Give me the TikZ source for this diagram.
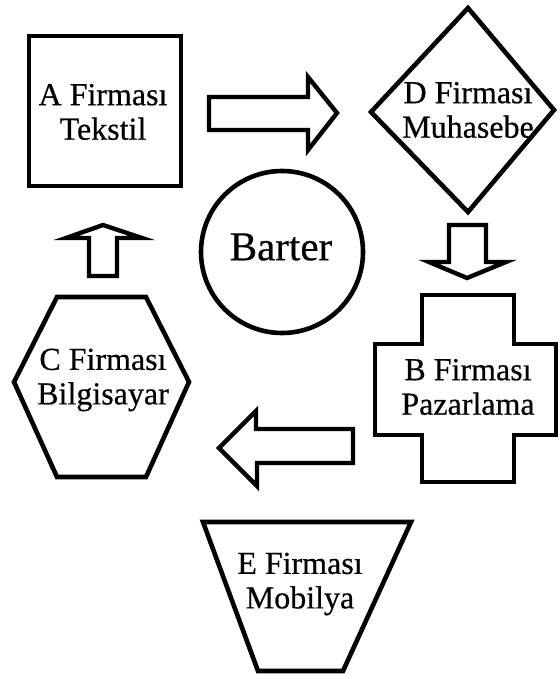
\documentclass[tikz,border=0pt]{standalone}
\usepackage{fontspec}
\setmainfont{Liberation Serif}[BoldFont={Liberation Serif}, BoldFeatures={FakeBold=0.5}]
\begin{document}
\begin{tikzpicture}[x=1pt, y=-1pt,
  outline/.style={draw=black, line width=4.6pt, line join=miter, fill=white},
  firm/.style={align=center, inner sep=0pt, font=\fontsize{32}{34.5}\selectfont\bfseries},
  blockarrow/.style={draw=black, line width=4.4pt, line join=miter, fill=white}]
\useasboundingbox (0,0) rectangle (559,679);
\fill[white] (0,0) rectangle (559,679);

% A: square
\draw[outline] (29,36) rectangle (181,186);
\node[firm] (firmA) at (103,112) {A Firması\\Tekstil};

% D: diamond
\draw[outline] (468,8) -- (554,110) -- (468,212) -- (371,112) -- cycle;
\node[firm] (firmD) at (468,110) {D Firması\\Muhasebe};

% Barter: circle in the middle
\draw[outline] (282,252) circle[radius=81];
\node[inner sep=0pt, font=\fontsize{41}{44}\selectfont\bfseries] (barter) at (281,247) {Barter};

% C: hexagon
\draw[outline] (14,382) -- (57,297) -- (146,297) -- (189,382) -- (146,477) -- (57,477) -- cycle;
\node[firm] (firmC) at (103,380) {C Firması\\Bilgisayar};

% B: cross
\draw[outline] (422,295) -- (514,295) -- (514,344) -- (556,344) -- (556,435)
  -- (514,435) -- (514,482) -- (422,482) -- (422,435) -- (375,435)
  -- (375,344) -- (422,344) -- cycle;
\node[firm] (firmB) at (468,387) {B Firması\\Pazarlama};

% E: trapezium
\draw[outline] (203,522) -- (411,522) -- (343,671) -- (258,671) -- cycle;
\node[firm] (firmE) at (300,584) {E Firması\\Mobilya};

% block arrows between the firms
\draw[blockarrow] (209,97) -- (308,97) -- (308,77) -- (337,113) -- (308,150)
  -- (308,130) -- (209,130) -- cycle;
\draw[blockarrow] (449,225) -- (486,225) -- (486,262) -- (506,262) -- (467,278)
  -- (429,262) -- (449,262) -- cycle;
\draw[blockarrow] (353,429) -- (256,429) -- (256,411) -- (219,448) -- (257,486)
  -- (257,463) -- (353,463) -- cycle;
\draw[blockarrow] (89,276) -- (89,238) -- (66,238) -- (103,225) -- (142,238)
  -- (117,238) -- (117,276) -- cycle;
\end{tikzpicture}
\end{document}
